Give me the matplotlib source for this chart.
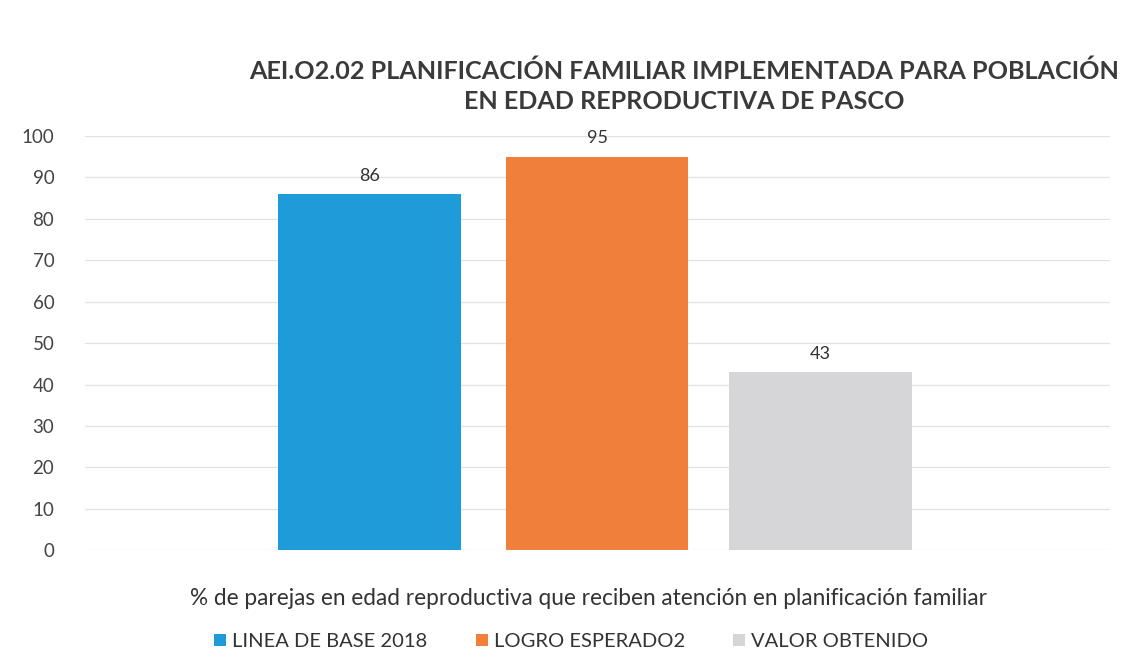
import matplotlib
matplotlib.use("Agg")
import matplotlib.pyplot as plt
from matplotlib.patches import Patch

plt.rcParams['font.family'] = ['Lato', 'DejaVu Sans']

title = "AEI.O2.02 PLANIFICACIÓN FAMILIAR IMPLEMENTADA PARA POBLACIÓN\nEN EDAD REPRODUCTIVA DE PASCO"
category = "% de parejas en edad reproductiva que reciben atención en planificación familiar"
series = ["LINEA DE BASE 2018", "LOGRO ESPERADO2", "VALOR OBTENIDO"]
values = [86, 95, 43]
colors = ["#1E9BD9", "#F07F3B", "#D6D6D8"]
yticks = [0, 10, 20, 30, 40, 50, 60, 70, 80, 90, 100]

fig = plt.figure(figsize=(11.31, 6.67), dpi=100)
ax = fig.add_axes([0.075, 0.175, 0.906, 0.621])

offsets = [-0.222, 0.0, 0.218]
width = 0.178
for off, v, c, name in zip(offsets, values, colors, series):
    ax.bar(off, v, width=width, color=c, label=name, zorder=3)
    ax.text(off, v + 2.5, str(v), ha='center', va='bottom', fontsize=13, color='#333333')

ax.set_xlim(-0.5, 0.5)
ax.set_ylim(0, 100)
ax.set_yticks(yticks)
ax.set_xticks([-0.008])
ax.set_xticklabels([category], fontsize=16.3, color='#333333')
ax.tick_params(axis='x', length=0, pad=27)
ax.tick_params(axis='y', length=0, labelsize=13.5, labelcolor='#444444', pad=22)
ax.grid(axis='y', color='#E2E2E2', linewidth=0.9, zorder=0)
for s in ax.spines.values():
    s.set_visible(False)

fig.text(0.605, 0.871, title, ha='center', va='center', fontsize=18.1,
         fontweight='bold', color='#3a3a3a', linespacing=1.35)

handles = [Patch(facecolor=c, label=n) for c, n in zip(colors, series)]
fig.legend(handles=handles, loc='center', bbox_to_anchor=(0.505, 0.038), ncol=3,
           frameon=False, fontsize=14.5, handlelength=0.6, handleheight=0.6,
           columnspacing=2.4, handletextpad=0.3, labelcolor='#333333')

fig.savefig("out.png", dpi=100, facecolor='white')
